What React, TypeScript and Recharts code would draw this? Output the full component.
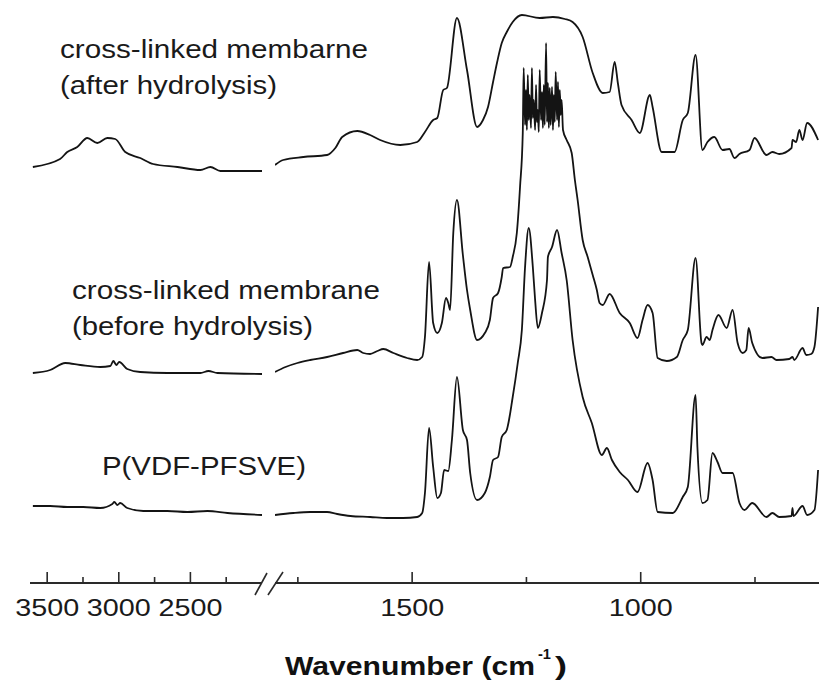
import React from "react";
import { LineChart, Line, XAxis, YAxis } from "recharts";

// [wavenumber cm-1, absorbance a.u.], baseline ~0
const afterLeft: [number, number][] = [
  [3600, 0.06], [3410, 0.14], [3360, 0.21], [3290, 0.26], [3220, 0.35], [3150, 0.3],
  [3080, 0.35], [3025, 0.34], [2955, 0.21], [2850, 0.15], [2760, 0.09], [2590, 0.06],
  [2430, 0.03], [2360, 0.06], [2290, 0.02], [2000, 0.02],
];
const afterRight: [number, number][] = [
  [1800, 0.08], [1782, 0.13], [1738, 0.16], [1686, 0.18], [1668, 0.25], [1653, 0.36],
  [1620, 0.42], [1592, 0.38], [1570, 0.33], [1526, 0.28], [1489, 0.31], [1472, 0.41],
  [1454, 0.53], [1445, 0.55], [1432, 0.83], [1424, 0.85], [1402, 1.55], [1380, 1.03],
  [1358, 0.46], [1345, 0.53], [1334, 0.66], [1323, 0.91], [1314, 1.11], [1304, 1.3],
  [1293, 1.41], [1280, 1.51], [1260, 1.58], [1221, 1.55], [1192, 1.56], [1166, 1.54],
  [1149, 1.51], [1127, 1.36], [1105, 1.0], [1083, 0.8], [1068, 0.81], [1057, 1.11],
  [1050, 0.9], [1042, 0.68], [1020, 0.53], [1002, 0.4], [980, 0.78], [974, 0.66],
  [954, 0.21], [926, 0.21], [908, 0.53], [897, 0.6], [880, 1.18], [865, 0.23],
  [854, 0.31], [839, 0.36], [821, 0.23], [806, 0.24], [795, 0.15], [784, 0.19],
  [762, 0.23], [751, 0.35], [725, 0.18], [712, 0.21], [697, 0.19], [670, 0.25],
  [668, 0.33], [660, 0.31], [653, 0.43], [646, 0.33], [636, 0.5], [612, 0.33],
];

const beforeLeft: [number, number][] = [
  [3600, 0.0], [3479, 0.03], [3374, 0.1], [3269, 0.08], [3129, 0.06], [3059, 0.07],
  [3038, 0.12], [3017, 0.08], [2997, 0.11], [2941, 0.04], [2850, 0.01], [2661, 0.0],
  [2430, 0.0], [2374, 0.02], [2311, 0.0], [2000, -0.01],
];
const beforeRight: [number, number][] = [
  [1800, 0.01], [1777, 0.06], [1751, 0.1], [1723, 0.13], [1686, 0.16], [1651, 0.2],
  [1620, 0.23], [1607, 0.2], [1592, 0.19], [1576, 0.22], [1563, 0.24], [1541, 0.2],
  [1511, 0.15], [1489, 0.13], [1478, 0.16], [1472, 0.36], [1463, 1.11], [1454, 0.5],
  [1445, 0.4], [1435, 0.5], [1426, 0.75], [1421, 0.7], [1417, 0.63], [1410, 1.4],
  [1402, 1.73], [1389, 1.18], [1380, 0.83], [1373, 0.63], [1358, 0.33], [1341, 0.4],
  [1330, 0.53], [1323, 0.75], [1312, 0.8], [1304, 0.96], [1301, 1.05], [1286, 1.06],
  [1280, 1.16], [1271, 1.4], [1264, 1.86],
  // saturated, noisy band
  [1258, 2.4], [1256, 3.05], [1253, 2.48], [1251, 2.83], [1249, 2.43], [1247, 2.98],
  [1245, 2.53], [1243, 2.78], [1240, 2.45], [1238, 3.05], [1236, 2.55], [1234, 2.73],
  [1231, 2.43], [1229, 2.88], [1227, 2.51], [1225, 2.63], [1223, 2.41], [1221, 3.03],
  [1218, 2.53], [1216, 2.81], [1214, 2.45], [1212, 2.88], [1210, 2.48], [1207, 3.3],
  [1205, 2.51], [1203, 2.9], [1201, 2.45], [1199, 2.85], [1197, 2.48], [1194, 2.86],
  [1192, 2.43], [1190, 2.78], [1188, 2.51], [1186, 3.01], [1183, 2.53], [1181, 2.91],
  [1179, 2.46], [1177, 2.83], [1175, 2.58], [1173, 2.73], [1170, 2.43],
  [1162, 2.33], [1151, 2.2], [1144, 1.93], [1138, 1.73], [1127, 1.33], [1116, 1.16],
  [1105, 0.98], [1096, 0.83], [1090, 0.7], [1083, 0.68], [1068, 0.79], [1046, 0.6],
  [1024, 0.5], [1007, 0.35], [996, 0.53], [985, 0.68], [974, 0.6], [963, 0.15],
  [943, 0.12], [921, 0.16], [908, 0.33], [897, 0.43], [880, 1.15], [867, 0.3],
  [865, 0.28], [856, 0.36], [849, 0.33], [843, 0.43], [830, 0.58], [812, 0.45],
  [799, 0.63], [788, 0.3], [777, 0.2], [769, 0.23], [764, 0.45], [756, 0.3],
  [734, 0.15], [714, 0.16], [703, 0.13], [675, 0.14], [668, 0.16], [664, 0.13],
  [646, 0.25], [638, 0.18], [627, 0.19], [620, 0.26], [612, 0.66],
];

const pristineLeft: [number, number][] = [
  [3600, 0.12], [3479, 0.12], [3360, 0.11], [3248, 0.11], [3129, 0.1], [3045, 0.14],
  [3031, 0.16], [3010, 0.13], [2990, 0.15], [2941, 0.1], [2829, 0.07], [2661, 0.07],
  [2521, 0.06], [2381, 0.07], [2241, 0.05], [2000, 0.03],
];
const pristineRight: [number, number][] = [
  [1800, 0.03], [1760, 0.05], [1723, 0.06], [1686, 0.06], [1664, 0.04], [1635, 0.02],
  [1592, 0.01], [1555, 0.0], [1520, 0.0], [1489, 0.01], [1478, 0.05], [1472, 0.25],
  [1463, 0.9], [1454, 0.51], [1445, 0.2], [1437, 0.25], [1430, 0.48], [1421, 0.47],
  [1413, 0.78], [1402, 1.41], [1389, 0.88], [1380, 0.78], [1373, 0.45], [1358, 0.18],
  [1341, 0.25], [1330, 0.41], [1323, 0.58], [1312, 0.61], [1304, 0.81], [1293, 0.88],
  [1280, 1.21], [1269, 1.55], [1260, 1.88], [1253, 2.51], [1245, 2.9], [1236, 2.51],
  [1231, 2.18], [1225, 1.9], [1216, 2.05], [1205, 2.38], [1203, 2.61], [1194, 2.71],
  [1183, 2.88], [1173, 2.65], [1162, 2.38], [1149, 1.78], [1127, 1.21], [1107, 0.95],
  [1085, 0.63], [1074, 0.7], [1063, 0.58], [1046, 0.46], [1028, 0.38], [1007, 0.26],
  [985, 0.55], [974, 0.38], [963, 0.06], [930, 0.05], [908, 0.21], [897, 0.31],
  [880, 1.23], [876, 0.71], [865, 0.15], [854, 0.18], [843, 0.65], [832, 0.56],
  [821, 0.45], [799, 0.45], [784, 0.15], [773, 0.08], [756, 0.15], [725, 0.01],
  [712, 0.05], [697, 0.01], [670, 0.02], [668, 0.1], [666, 0.02], [646, 0.12],
  [636, 0.03], [620, 0.08], [612, 0.48],
];

const leftTicks = [3500, 3250, 3000, 2750, 2500, 2250];
const rightTicks = [1750, 1500, 1250, 1000, 750];
const majorTicks = [3500, 3000, 2500, 1500, 1000];

// vertical stacking of the three spectra
const OFFSET_AFTER = 4.1;
const OFFSET_BEFORE = 2.1;
const OFFSET_PRISTINE = 0.65;

const W = 819;
const H = 686;
const Y_MAX = 5.8;
const FONT = "'Liberation Sans', Arial, Helvetica, sans-serif";
const INK = "#141414";

const stack = (pts: [number, number][], off: number) =>
  pts.map(([wn, a]) => ({ wn, a: a + off }));

function AxisTick(props: any) {
  const { x, y, payload } = props;
  const major = majorTicks.includes(payload.value);
  return (
    <g>
      <line x1={x} x2={x} y1={y} y2={y - (major ? 11 : 6)} stroke="#2a2a2a" strokeWidth={1.6} />
      {major && (
        <text
          x={x - 32}
          y={y + 33}
          fontSize={24}
          fontFamily={FONT}
          fill="#1a1a1a"
          textLength={64}
          lengthAdjust="spacingAndGlyphs"
        >
          {payload.value}
        </text>
      )}
    </g>
  );
}

interface PanelProps {
  domain: [number, number]
  ticks: number[]
  left: number
  right: number
  series: { wn: number; a: number }[][]
}

function Panel({ domain, ticks, left, right, series }: PanelProps) {
  return (
    <div style={{ position: "absolute", left: 0, top: 0 }}>
      <LineChart width={W} height={H} margin={{ top: 3, right, left, bottom: 0 }}>
        <XAxis
          type="number"
          dataKey="wn"
          domain={domain}
          reversed
          allowDataOverflow
          ticks={ticks}
          interval={0}
          height={103}
          tickSize={0}
          tickMargin={0}
          tickLine={false}
          axisLine={{ stroke: "#2a2a2a", strokeWidth: 1.8 }}
          tick={(p: any) => <AxisTick {...p} />}
        />
        <YAxis hide type="number" domain={[0, Y_MAX]} allowDataOverflow />
        {series.map((d, i) => (
          <Line
            key={i}
            data={d}
            dataKey="a"
            type="monotone"
            stroke={INK}
            strokeWidth={1.8}
            dot={false}
            activeDot={false}
            isAnimationActive={false}
          />
        ))}
      </LineChart>
    </div>
  );
}

const labels = [
  { text: "cross-linked membarne", x: 60, y: 58, w: 308 },
  { text: "(after hydrolysis)", x: 60, y: 94, w: 217 },
  { text: "cross-linked membrane", x: 72, y: 299, w: 308 },
  { text: "(before hydrolysis)", x: 72, y: 335, w: 241 },
  { text: "P(VDF-PFSVE)", x: 102, y: 475, w: 204 },
];

export default function App() {
  return (
    <div style={{ position: "absolute", left: 0, top: 0, width: W, height: H, background: "#fff" }}>
      <Panel
        domain={[2000, 3620]}
        ticks={leftTicks}
        left={30}
        right={W - 262}
        series={[
          stack(afterLeft, OFFSET_AFTER),
          stack(beforeLeft, OFFSET_BEFORE),
          stack(pristineLeft, OFFSET_PRISTINE),
        ]}
      />
      <Panel
        domain={[610, 1800]}
        ticks={rightTicks}
        left={275}
        right={0}
        series={[
          stack(afterRight, OFFSET_AFTER),
          stack(beforeRight, OFFSET_BEFORE),
          stack(pristineRight, OFFSET_PRISTINE),
        ]}
      />
      <svg
        width={W}
        height={H}
        style={{ position: "absolute", left: 0, top: 0, pointerEvents: "none" }}
      >
        {labels.map((l) => (
          <text
            key={l.text}
            x={l.x}
            y={l.y}
            fontSize={25}
            fontFamily={FONT}
            fill="#1a1a1a"
            textLength={l.w}
            lengthAdjust="spacingAndGlyphs"
          >
            {l.text}
          </text>
        ))}
        {/* axis break */}
        <line x1={255} y1={595} x2={267} y2={573} stroke="#2a2a2a" strokeWidth={1.6} />
        <line x1={268} y1={595} x2={283} y2={572} stroke="#2a2a2a" strokeWidth={1.6} />
        {/* axis title */}
        <text x={285} y={675} fontSize={25} fontWeight="bold" fontFamily={FONT} fill="#111"
          textLength={250} lengthAdjust="spacingAndGlyphs">
          Wavenumber (cm
        </text>
        <text x={538} y={659} fontSize={15} fontWeight="bold" fontFamily={FONT} fill="#111"
          textLength={13} lengthAdjust="spacingAndGlyphs">
          -1
        </text>
        <text x={555} y={675} fontSize={25} fontWeight="bold" fontFamily={FONT} fill="#111"
          textLength={12} lengthAdjust="spacingAndGlyphs">
          )
        </text>
      </svg>
    </div>
  );
}
